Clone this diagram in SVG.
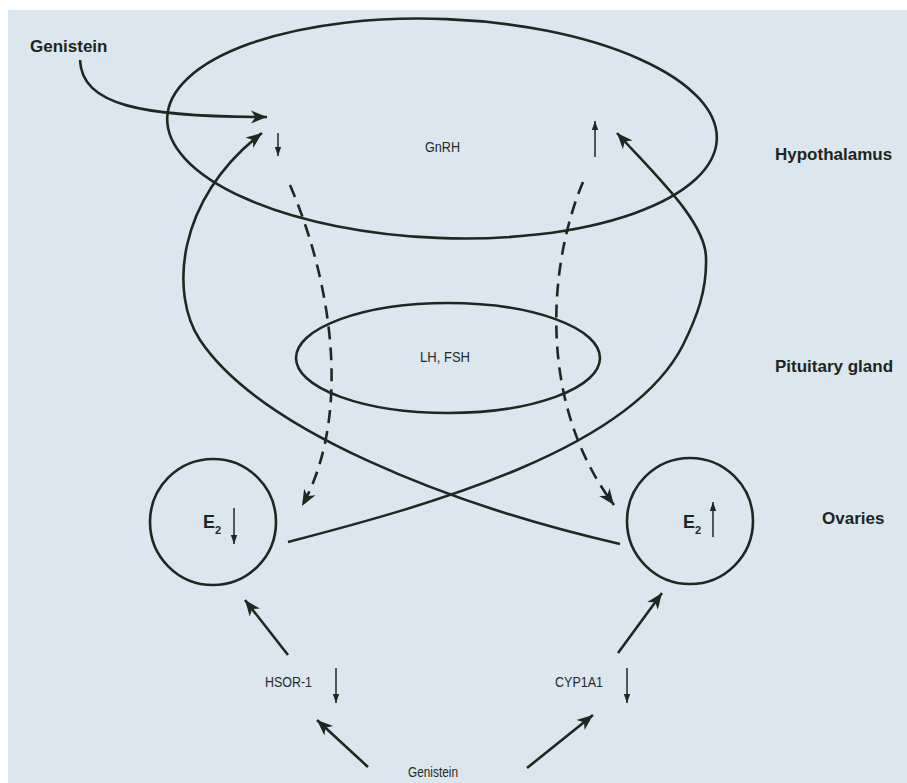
<svg xmlns="http://www.w3.org/2000/svg" width="907" height="783" viewBox="0 0 907 783">
<defs>
<style>
.ln{fill:none;stroke:#1d2822;stroke-width:2.6}
.dash{stroke-dasharray:13 8}
.thin{fill:none;stroke:#1d2822;stroke-width:1.5}
.shape{fill:none;stroke:#1d2822;stroke-width:2.6}
.lbl{font-family:"Liberation Sans",Arial,sans-serif;font-weight:bold;font-size:17px;fill:#1b2620}
.sm{font-family:"Liberation Sans",Arial,sans-serif;font-size:14.5px;fill:#222b27}
.e{font-family:"Liberation Sans",Arial,sans-serif;font-weight:bold;font-size:18px;fill:#1b2620}
.sub{font-family:"Liberation Sans",Arial,sans-serif;font-weight:bold;font-size:11px;fill:#1b2620}
</style>
<marker id="big" markerUnits="userSpaceOnUse" markerWidth="20" markerHeight="16" viewBox="-17 -8 19 16" refX="0" refY="0" orient="auto">
<path d="M0,0 L-16,-6.5 L-11.5,0 L-16,6.5 Z" fill="#1d2822"/>
</marker>
<marker id="small" markerUnits="userSpaceOnUse" markerWidth="12" markerHeight="10" viewBox="-10 -5 11 10" refX="0" refY="0" orient="auto">
<path d="M0,0 L-9,-3.2 L-9,3.2 Z" fill="#1d2822"/>
</marker>
</defs>
<rect x="0" y="0" width="907" height="783" fill="#ffffff"/>
<rect x="8" y="10" width="899" height="773" fill="#dce6ee"/>

<g id="hypothalamus">
<ellipse cx="442" cy="128.5" rx="275" ry="109.5" transform="rotate(2.3 442 128.5)" class="shape"/>
<text x="775" y="160" class="lbl">Hypothalamus</text>
</g>
<g id="gnrh">
<text x="425" y="152" class="sm" textLength="35" lengthAdjust="spacingAndGlyphs">GnRH</text>
</g>
<g id="pituitary">
<ellipse cx="448" cy="358" rx="152" ry="55" class="shape"/>
<text x="775" y="372" class="lbl">Pituitary gland</text>
</g>
<g id="lhfsh">
<text x="420" y="362" class="sm" textLength="50" lengthAdjust="spacingAndGlyphs">LH, FSH</text>
</g>
<g id="ovary-left">
<circle cx="213" cy="522" r="63" class="shape"/>
<text x="203" y="528" class="e">E</text><text x="215" y="534" class="sub">2</text>
</g>
<g id="ovary-right">
<circle cx="690" cy="521" r="63" class="shape"/>
<text x="683" y="528" class="e">E</text><text x="695" y="534" class="sub">2</text>
<text x="822" y="524" class="lbl">Ovaries</text>
</g>
<g id="genistein-top">
<text x="30" y="52" class="lbl">Genistein</text>
</g>
<g id="hsor1">
<text x="265" y="687" class="sm" textLength="47" lengthAdjust="spacingAndGlyphs">HSOR-1</text>
</g>
<g id="cyp1a1">
<text x="555" y="687" class="sm" textLength="48" lengthAdjust="spacingAndGlyphs">CYP1A1</text>
</g>
<g id="genistein-bottom">
<text x="408" y="777" class="sm" textLength="50" lengthAdjust="spacingAndGlyphs">Genistein</text>
</g>

<g id="connectors">
<path class="ln" d="M80,60 C82,105 140,117 267,117" marker-end="url(#big)"/>
<path class="ln" d="M620,544 C450,505 260,430 200,340 C170,295 175,200 262,133" marker-end="url(#big)"/>
<path class="ln" d="M288,542 C430,505 630,450 683,345 C697,317 707,290 706,258 C706,222 655,175 617,133" marker-end="url(#big)"/>
<path class="ln dash" d="M290,185 C335,290 350,420 302,506" marker-end="url(#big)"/>
<path class="ln dash" d="M583,182 C550,260 535,400 614,505" marker-end="url(#big)"/>
<path class="ln" stroke-width="2.8" d="M288,655 L245,600" marker-end="url(#big)"/>
<path class="ln" stroke-width="2.8" d="M368,767 L317,720" marker-end="url(#big)"/>
<path class="ln" stroke-width="2.8" d="M618,653 L662,593" marker-end="url(#big)"/>
<path class="ln" stroke-width="2.8" d="M527,768 L593,715" marker-end="url(#big)"/>
<path class="thin" d="M278,133 L278,156" marker-end="url(#small)"/>
<path class="thin" d="M595,157 L595,121" marker-end="url(#small)"/>
<path class="thin" d="M234,508 L234,544" marker-end="url(#small)"/>
<path class="thin" d="M713,537 L713,502" marker-end="url(#small)"/>
<path class="thin" d="M336,668 L336,703" marker-end="url(#small)"/>
<path class="thin" d="M627,668 L627,703" marker-end="url(#small)"/>
</g>
</svg>
